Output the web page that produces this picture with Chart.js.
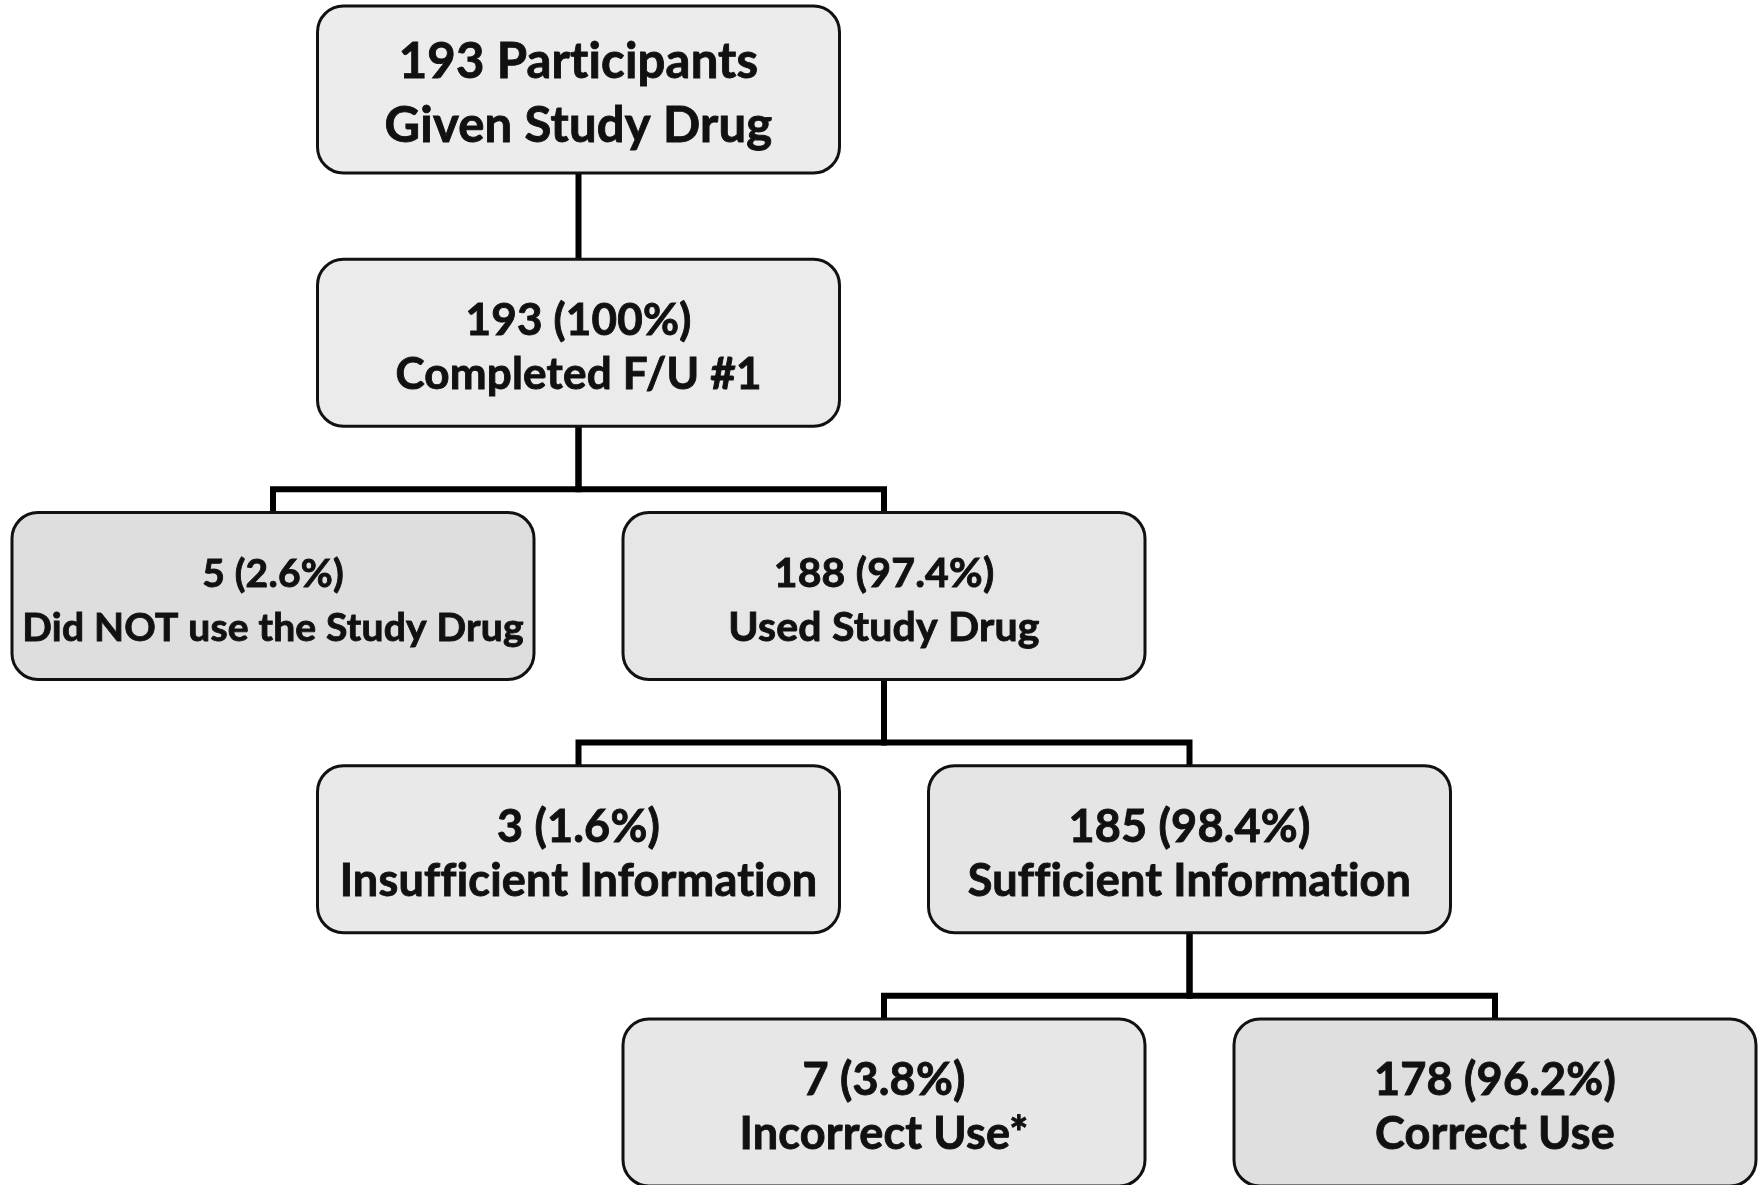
<!DOCTYPE html>
<html>
<head>
<meta charset="utf-8">
<title>Study drug flow</title>
<script src="https://cdn.jsdelivr.net/npm/chart.js@4.4.1/dist/chart.umd.min.js"></script>
<style>
  html, body { margin: 0; padding: 0; background: #fff; }
  #flow { display: block; }
</style>
</head>
<body>
<canvas id="flow" width="1760" height="1185"></canvas>
<script>
// ---- data: one entry per box of the flow diagram ----
const nodeCounts  = [193, 193, 5, 188, 3, 185, 7, 178];
const nodePcts    = [null, 100, 2.6, 97.4, 1.6, 98.4, 3.8, 96.2];
const nodeTitles  = ['Participants', 'Completed F/U #1', 'Did NOT use the Study Drug',
                     'Used Study Drug', 'Insufficient Information', 'Sufficient Information',
                     'Incorrect Use*', 'Correct Use'];
const nodeLevel   = [0, 1, 2, 2, 3, 3, 4, 4];   // row of the tree
const nodeColumn  = [1, 1, 0, 2, 1, 3, 2, 4];   // column slot of the tree
const nodeParent  = [-1, 0, 1, 1, 3, 3, 5, 5];

// ---- layout (pixels per slot, converted to axis units) ----
const colStepPx = 305.5, firstColPx = 273;
const levelStepPx = 253.25, firstLevelPx = 6;
const CANVAS_W = 1760, CANVAS_H = 1185;
const xMin = -firstColPx / colStepPx, xMax = xMin + CANVAS_W / colStepPx;
const yMin = -firstLevelPx / levelStepPx, yMax = yMin + CANVAS_H / levelStepPx;
const boxW = 522 / colStepPx;      // in column units
const boxH = 167 / levelStepPx;    // in level units
const busOffset = 230 / levelStepPx;
const boxRadius = 26;
const boxFills = ['#ececec', '#ebebeb', '#dedede', '#e6e6e6', '#e9e9e9', '#e5e5e5', '#e7e7e7', '#dfdfdf'];
const fontSizes = [49, 44, 39, 41, 45, 45, 45, 45];
const FONT = '"Lato", "Open Sans", "DejaVu Sans", sans-serif';

function nodeLines(i) {
  if (nodePcts[i] === null) return [nodeCounts[i] + ' ' + nodeTitles[i], 'Given Study Drug'];
  return [nodeCounts[i] + ' (' + nodePcts[i] + '%)', nodeTitles[i]];
}

// elbow connectors parent -> child, as line datasets
const connectors = [];
nodeParent.forEach((p, i) => {
  if (p < 0) return;
  const px = nodeColumn[p], cx = nodeColumn[i];
  const pBottom = nodeLevel[p] + boxH;
  const bus = nodeLevel[p] + busOffset;
  const pts = (px === cx)
    ? [{ x: px, y: pBottom }, { x: cx, y: nodeLevel[i] }]
    : [{ x: px, y: pBottom }, { x: px, y: bus }, { x: cx, y: bus }, { x: cx, y: nodeLevel[i] }];
  connectors.push({
    data: pts,
    showLine: true,
    borderColor: '#000',
    borderWidth: 6,
    pointRadius: 0,
    borderJoinStyle: 'miter',
    borderCapStyle: 'butt',
    fill: false,
    tension: 0
  });
});

function roundRect(ctx, x, y, w, h, r) {
  ctx.beginPath();
  ctx.moveTo(x + r, y);
  ctx.lineTo(x + w - r, y);
  ctx.arcTo(x + w, y, x + w, y + r, r);
  ctx.lineTo(x + w, y + h - r);
  ctx.arcTo(x + w, y + h, x + w - r, y + h, r);
  ctx.lineTo(x + r, y + h);
  ctx.arcTo(x, y + h, x, y + h - r, r);
  ctx.lineTo(x, y + r);
  ctx.arcTo(x, y, x + r, y, r);
  ctx.closePath();
}

// boxes and their two text lines, placed through the chart scales
const boxPlugin = {
  id: 'boxes',
  afterDatasetsDraw(chart) {
    const { ctx, scales: { x, y } } = chart;
    ctx.save();
    nodeCounts.forEach((_, i) => {
      const left = x.getPixelForValue(nodeColumn[i] - boxW / 2);
      const right = x.getPixelForValue(nodeColumn[i] + boxW / 2);
      const top = y.getPixelForValue(nodeLevel[i]);
      const bottom = y.getPixelForValue(nodeLevel[i] + boxH);
      roundRect(ctx, left, top, right - left, bottom - top, boxRadius);
      ctx.fillStyle = boxFills[i];
      ctx.fill();
      ctx.lineWidth = 3;
      ctx.strokeStyle = '#111';
      ctx.stroke();

      const gap = i === 0 ? 64 : 54;
      const cx = (left + right) / 2, cy = top + (bottom - top) / 2 + 5;
      ctx.fillStyle = '#111';
      ctx.strokeStyle = '#111';
      ctx.lineWidth = 0.9;
      ctx.textAlign = 'center';
      ctx.textBaseline = 'middle';
      ctx.font = 'bold ' + fontSizes[i] + 'px ' + FONT;
      if ('letterSpacing' in ctx) ctx.letterSpacing = '0.2px'; // keeps "ti" from joining
      const lines = nodeLines(i);
      ctx.fillText(lines[0], cx, cy - gap / 2);
      ctx.strokeText(lines[0], cx, cy - gap / 2);
      ctx.fillText(lines[1], cx, cy + gap / 2);
      ctx.strokeText(lines[1], cx, cy + gap / 2);
    });
    ctx.restore();
  }
};

document.addEventListener('DOMContentLoaded', function() {
  new Chart(document.getElementById('flow'), {
    type: 'scatter',
    data: { datasets: connectors },
    options: {
      responsive: false,
      animation: false,
      events: [],
      layout: { padding: 0 },
      plugins: { legend: { display: false }, tooltip: { enabled: false } },
      scales: {
        x: { type: 'linear', min: xMin, max: xMax, display: false },
        y: { type: 'linear', min: yMin, max: yMax, reverse: true, display: false }
      }
    },
    plugins: [boxPlugin]
  });
});
</script>
</body>
</html>
